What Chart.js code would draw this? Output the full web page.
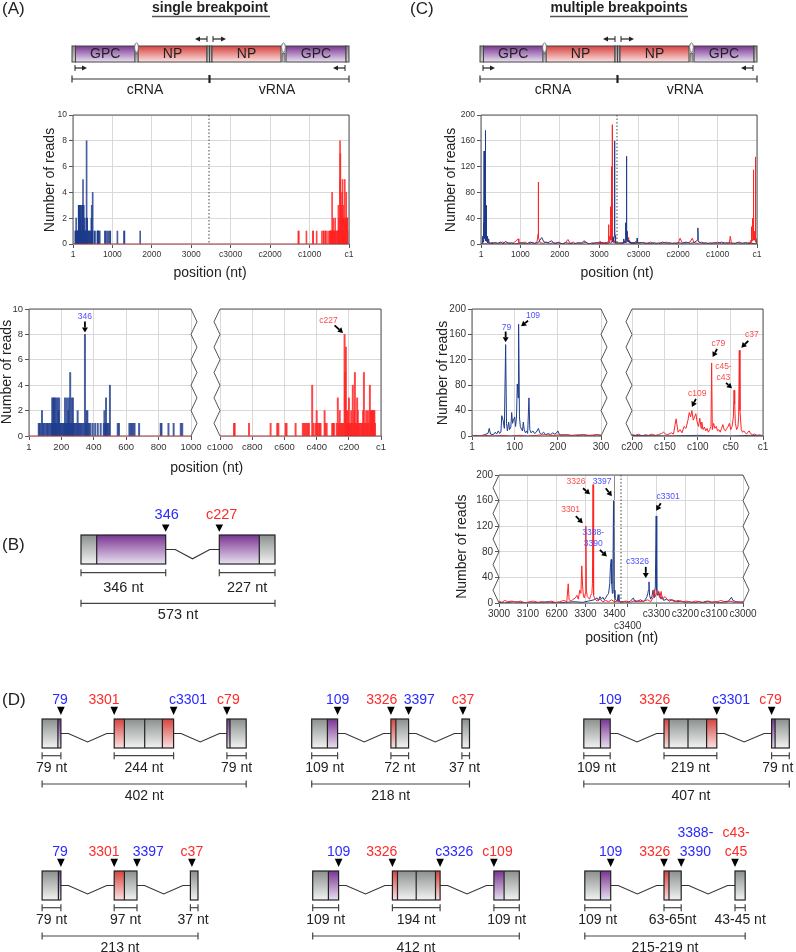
<!DOCTYPE html>
<html>
<head>
<meta charset="utf-8">
<script src="https://cdn.jsdelivr.net/npm/chart.js@4.4.0/dist/chart.umd.min.js"></script>
<style>
body{margin:0;background:#fff;width:796px;height:952px;position:relative;overflow:hidden;font-family:"Liberation Sans",Arial,sans-serif}
#bg{position:absolute;left:0;top:0}
.plot{position:absolute}
</style>
</head>
<body>
<canvas id="bg" width="796" height="952"></canvas>
<div class="plot" id="wA1"><canvas id="A1"></canvas></div>
<div class="plot" id="wA2L"><canvas id="A2L"></canvas></div>
<div class="plot" id="wA2R"><canvas id="A2R"></canvas></div>
<div class="plot" id="wC1"><canvas id="C1"></canvas></div>
<div class="plot" id="wC2L"><canvas id="C2L"></canvas></div>
<div class="plot" id="wC2R"><canvas id="C2R"></canvas></div>
<div class="plot" id="wC3"><canvas id="C3"></canvas></div>
<script>
// ---- (A) single breakpoint: reads per junction position
// blue = cRNA side positions, red = vRNA side positions (cN)
const aBluePos = [61,66,72,81,88,95,104,112,118,126, 134,140,144,148,151,155,158,162,166,170,
  174,178,183,187,192,196,203,209,214,219, 223,228,232,235,239,243,247,252,255,259,
  264,268,272,277,282,289,295,301,306,312, 318,324,331,339,346,352,356,361,366,372,
  380,394,409,425,443,462,466,472,476,481, 486,494,500,548,556,620,628,636,645,652,
  680,813,818,861,893,937,946,1127,1296,1305, 1705];
const aBlueReads = [1,1,1,2,1,1,1,1,1,1, 1,1,3,1,3,3,1,3,1,3,
  1,3,2,3,1,1,1,1,1,1, 3,1,1,3,1,2,3,1,5,1,
  3,1,3,1,1,1,1,2,1,1, 1,1,1,1,8,1,2,2,1,1,
  1,1,1,1,1,1,2,1,3,1, 1,1,4,1,1,1,1,1,1,1,
  1,1,1,1,1,1,1,1,1,1, 1];
const aRedPos = [1283,1275,1080,913,909,820,686,645,638,593, 587,531,486,478,470,462,455,448,428,420,
  407,400,396,388,381,376,351,346,338,304, 298,293,276,269,262,257,250,244,239,233,
  227,223,219,215,211,207,204,200,195,190, 186,181,176,171,167,163,158,153,149,145,
  140,135,128,122,117,112,107,103,98,93, 88,82,76,70,66,62,58,54,50,46, 42,38];
const aRedReads = [1,1,1,1,1,1,1,1,1,1, 1,1,1,1,1,1,1,1,4,1,
  1,2,1,1,1,1,2,1,1,1, 1,1,1,3,1,2,1,1,1,1,
  8,5,7,2,1,2,1,3,1,1, 2,1,4,1,2,5,1,1,3,2,
  1,1,1,1,1,2,5,1,1,2, 1,2,1,4,2,2,2,2,2,2, 2,1];

// ---- (C) multiple breakpoints: [position, reads]
const cBlueCrna = [[1,0],[10,1],[20,0],[30,2],[38,4],[41,12],[44,3],[50,2],[55,6],[58,3],[62,8],[65,4],[68,6],[70,32],[73,25],[76,12],[79,144],[81,20],[83,8],[86,22],[88,10],[91,14],[93,37],[95,20],[97,25],[100,30],[102,15],[104,28],[106,82],[108,60],[109,176],[111,30],[113,15],[116,10],[118,8],[120,22],[122,10],[125,5],[128,8],[130,4],[133,60],[135,10],[138,5],[142,8],[146,4],[150,6],[155,12],[158,5],[162,3],[167,6],[172,2],[178,4],[183,2],[188,5],[192,3],[196,4],[200,8],[204,2],[210,1],[220,2],[230,1],[240,0],[250,1],[260,2],[270,1],[280,0],[290,2],[300,1],
  [350,2],[420,1],[500,3],[560,0],[620,4],[700,1],[780,2],[860,0],[950,1],[1050,2],[1150,0],[1250,3],[1350,1],[1450,2],[1540,10],[1600,3],[1700,2],[1790,5],[1850,1],[1950,2],[2050,0],[2150,2],[2250,1],[2350,0],[2450,2],[2550,1],[2610,5],[2700,1],[2800,0],[2900,2],
  [3000,1],[3020,0],[3050,2],[3080,1],[3110,0],[3140,1],[3170,2],[3200,0],[3230,1],[3260,2],[3290,1],[3310,3],[3330,5],[3340,8],[3345,4],[3350,10],[3355,6],[3360,9],[3365,5],[3370,8],[3375,12],[3380,15],[3384,30],[3386,55],[3389,68],[3391,30],[3393,15],[3395,40],[3397,160],[3399,20],[3402,8],[3406,4],[3410,3],[3413,13],[3416,3],[3422,2]];
const cBlueVrna = [[3420,1],[3410,2],[3400,1],[3390,3],[3380,8],[3375,2],[3365,3],[3355,5],[3345,2],[3338,6],[3333,10],[3330,15],[3328,20],[3326,33],[3324,12],[3320,6],[3316,10],[3312,20],[3308,8],[3304,25],[3301,136],[3299,20],[3296,12],[3292,18],[3288,10],[3284,6],[3280,10],[3275,4],[3265,6],[3255,3],[3245,5],[3230,2],[3215,3],[3200,1],[3185,2],[3170,0],[3155,2],[3140,1],[3125,3],[3110,1],[3095,2],[3080,0],[3065,2],[3050,3],[3040,9],[3035,4],[3025,2],[3010,1],[3000,2],
  [2900,2],[2800,1],[2700,1],[2600,2],[2500,0],[2400,3],[2300,1],[2200,2],[2100,0],[2000,2],[1900,1],[1800,3],[1700,1],[1600,2],[1510,6],[1499,25],[1490,4],[1400,1],[1300,2],[1200,0],[1100,2],[1000,1],[900,3],[800,1],[700,2],[600,0],[500,2],[400,1],[300,2],[200,1],[150,0],[100,1],[50,0],[20,1],[1,0]];
const cRedCrna = [[1,1],[15,0],[30,1],[50,0],[70,1],[90,0],[110,1],[130,0],[150,1],[170,2],[190,1],[210,2],[230,1],[250,2],[270,1],[290,2],[300,1],
  [380,2],[460,0],[540,3],[620,1],[700,2],[780,0],[860,3],[940,8],[960,2],[1040,1],[1120,3],[1200,0],[1280,2],[1360,1],[1420,3],[1450,15],[1455,96],[1460,10],[1500,2],[1580,1],[1660,3],[1740,0],[1820,2],[1900,1],[1980,3],[2060,0],[2140,2],[2207,7],[2260,1],[2340,3],[2420,0],[2500,2],[2580,1],[2660,3],[2740,0],[2820,2],[2900,1],
  [3000,3],[3010,1],[3020,4],[3030,2],[3045,3],[3060,1],[3075,3],[3090,0],[3105,2],[3120,3],[3135,1],[3150,2],[3165,0],[3180,3],[3195,1],[3210,2],[3225,4],[3235,2],[3240,30],[3243,5],[3250,3],[3258,6],[3265,8],[3270,12],[3275,6],[3280,20],[3284,15],[3287,58],[3290,25],[3293,10],[3296,8],[3299,15],[3301,120],[3303,20],[3306,10],[3310,8],[3314,6],[3318,12],[3322,15],[3324,30],[3326,185],[3328,12],[3331,8],[3335,5],[3340,3],[3350,6],[3360,2],[3370,4],[3380,2],[3390,5],[3400,2],[3410,3],[3422,1]];
const cRedVrna = [[3420,2],[3405,3],[3390,1],[3375,4],[3360,2],[3345,3],[3330,5],[3320,2],[3312,8],[3308,21],[3304,10],[3300,15],[3296,20],[3292,12],[3288,8],[3284,18],[3280,6],[3270,10],[3260,4],[3250,6],[3240,2],[3225,4],[3210,2],[3195,3],[3180,1],[3165,3],[3150,2],[3135,0],[3120,3],[3105,1],[3090,2],[3075,4],[3060,1],[3045,3],[3030,1],[3015,2],[3000,1],
  [2900,2],[2800,1],[2700,3],[2600,0],[2500,2],[2400,1],[2300,3],[2200,0],[2100,2],[2000,1],[1950,9],[1900,2],[1800,1],[1700,3],[1640,9],[1600,2],[1500,1],[1400,3],[1300,0],[1200,2],[1100,1],[1000,3],[900,0],[800,2],[700,1],[679,12],[650,2],[550,1],[450,3],[350,0],[280,2],[240,1],
  [200,2],[195,1],[190,3],[185,0],[180,2],[175,1],[170,3],[165,1],[160,2],[155,4],[152,6],[148,2],[144,3],[140,5],[137,3],[133,27],[130,6],[127,10],[124,5],[121,15],[118,12],[115,25],[113,37],[111,30],[109,40],[107,25],[105,30],[103,35],[101,22],[99,15],[97,28],[95,12],[94,22],[92,10],[90,14],[88,8],[86,12],[84,6],[82,10],[80,15],[79,115],[78,10],[76,20],[74,12],[72,15],[70,8],[68,10],[66,6],[64,12],[62,18],[60,10],[58,8],[56,12],[54,15],[52,20],[50,10],[48,15],[46,30],[45,72],[44,50],[43,20],[41,10],[39,15],[38,30],[37,135],[36,40],[34,10],[32,6],[30,8],[28,5],[26,3],[24,6],[22,8],[20,4],[17,2],[14,3],[10,1],[6,2],[1,0]];

// ---- tick labels
const topTicks = [1,1000,2000,3000,4000,5000,6000,7000];
const topLabels = ['1','1000','2000','3000','c3000','c2000','c1000','c1'];
const aLeftTicks = [1,200,400,600,800,1000];
const aLeftLabels = ['1','200','400','600','800','1000'];
const aRightTicks = [1000,800,600,400,200,1];
const aRightLabels = ['c1000','c800','c600','c400','c200','c1'];
const cLeftTicks = [1,100,200,300];
const cLeftLabels = ['1','100','200','300'];
const cRightTicks = [200,150,100,50,1];
const cRightLabels = ['c200','c150','c100','c50','c1'];
const zoomTicks = [3000,3100,3200,3300,3400,3446,3546,3646,3746,3846];
const zoomLabels = ['3000','3100','6200','3300','3400',['','c3400'],'c3300','c3200','c3100','c3000'];

const TOP_SPAN = 7000, ZOOM_SPAN = 6846;
const BLUE = '#1e3c8c', RED = '#ff2424';
const BAR_BLUE = 'rgba(30,60,140,0.82)', BAR_RED = 'rgba(255,36,36,0.85)';
const LBLUE = '#4f4fff', LRED = '#ff4a4a';
const FONT = "'Liberation Sans', Arial, Helvetica, sans-serif";

Chart.defaults.font.family = FONT;
Chart.defaults.color = '#333';

const EXTRA = {};

function zig(ctx, x, t, b, amp) {
  ctx.beginPath();
  ctx.moveTo(x, t);
  if (amp) for (let k = 1; k < 10; k++) ctx.lineTo(x + (k % 2 ? amp : 0), t + k * (b - t) / 10);
  ctx.lineTo(x, b);
  ctx.stroke();
}

function arrow(ctx, x0, y0, x1, y1) {
  const ang = Math.atan2(y1 - y0, x1 - x0), L = 5, W = 3;
  const bx = x1 - L * Math.cos(ang), by = y1 - L * Math.sin(ang);
  ctx.strokeStyle = '#000'; ctx.lineWidth = 1.8;
  ctx.beginPath(); ctx.moveTo(x0, y0); ctx.lineTo(bx, by); ctx.stroke();
  ctx.fillStyle = '#000';
  ctx.beginPath(); ctx.moveTo(x1, y1);
  ctx.lineTo(bx + W * Math.sin(ang), by - W * Math.cos(ang));
  ctx.lineTo(bx - W * Math.sin(ang), by + W * Math.cos(ang));
  ctx.closePath(); ctx.fill();
}

const framePlugin = {
  id: 'frame',
  afterDatasetsDraw(chart) {
    const s = EXTRA[chart.canvas.id], ctx = chart.ctx, a = chart.chartArea;
    ctx.save();
    if (s.vmark) {
      const x = chart.scales.x.getPixelForValue(s.vmark);
      ctx.strokeStyle = '#444'; ctx.lineWidth = 1; ctx.setLineDash([1.5, 2]);
      ctx.beginPath(); ctx.moveTo(x, a.top); ctx.lineTo(x, a.bottom); ctx.stroke();
      ctx.setLineDash([]);
    }
    ctx.lineWidth = 1; ctx.strokeStyle = '#555';
    ctx.beginPath(); ctx.moveTo(a.left, a.top); ctx.lineTo(a.right, a.top); ctx.stroke();
    zig(ctx, a.left, a.top, a.bottom, s.zigL ? -6 : 0);
    zig(ctx, a.right, a.top, a.bottom, s.zigR ? 6 : 0);
    ctx.strokeStyle = s.base || '#555';
    ctx.beginPath(); ctx.moveTo(a.left, a.bottom); ctx.lineTo(a.right, a.bottom); ctx.stroke();
    // arrows with breakpoint labels
    (s.anno || []).forEach(it => {
      const x = chart.scales.x.getPixelForValue(it.x), y = chart.scales.y.getPixelForValue(it.y);
      arrow(ctx, x + it.t[0], y + it.t[1], x + it.h[0], y + it.h[1]);
      ctx.font = '8.5px ' + FONT; ctx.textAlign = 'center'; ctx.textBaseline = 'middle';
      ctx.fillStyle = it.c === 'blue' ? LBLUE : LRED;
      it.text.forEach((ln, i) => ctx.fillText(ln, x + it.l[0], y + it.l[1] + i * 10.8));
    });
    ctx.restore();
  }
};

function build(id, p, s) {
  EXTRA[id] = s;
  const d = document.getElementById('w' + id);
  d.style.left = Math.round(p.L - p.yw - p.pl) + 'px';
  d.style.top = Math.round(p.T - p.pt) + 'px';
  d.style.width = Math.round(p.R - p.L + p.yw + p.pl + p.pr) + 'px';
  d.style.height = Math.round(p.B - p.T + p.pt + p.xh) + 'px';
  return new Chart(document.getElementById(id), {
    type: s.type,
    data: {datasets: s.datasets},
    options: {
      responsive: true,
      maintainAspectRatio: false,
      animation: false,
      events: [],
      layout: {padding: {left: p.pl, top: p.pt, right: p.pr, bottom: 0}},
      plugins: {legend: {display: false}, tooltip: {enabled: false}},
      scales: {
        x: {
          type: 'linear', min: s.xmin, max: s.xmax, reverse: !!s.reverse, offset: false,
          afterBuildTicks: sc => { sc.ticks = s.xt.map(v => ({value: v})); },
          afterFit: sc => { sc.height = p.xh; sc.paddingLeft = 0; sc.paddingRight = 0; },
          ticks: {autoSkip: false, maxRotation: 0, minRotation: 0, padding: 1.5,
            font: {size: s.fs}, color: '#333', callback: (v, i) => s.xl[i]},
          grid: {offset: false, tickLength: 4, tickColor: '#555',
            color: c => (s.darkAt && c.tick && c.tick.value === s.darkAt) ? '#8a8a8a' : '#d9d9d9'},
          border: {display: false}
        },
        y: {
          min: 0, max: s.ymax,
          afterFit: sc => { sc.width = p.yw; sc.paddingTop = 0; sc.paddingBottom = 0; },
          ticks: {stepSize: s.ystep, display: s.ylab, font: {size: s.fs}, color: '#333', padding: 2},
          grid: {color: '#d9d9d9', tickLength: 4, tickColor: '#555', drawTicks: s.ylab},
          border: {display: false}
        }
      }
    },
    plugins: [framePlugin]
  });
}

const pairs = (pos, reads, f) => pos.map((v, i) => ({x: f(v), y: reads[i]}));
const pts = (arr, f) => arr.map(([v, r]) => ({x: f(v), y: r}));
const same = v => v;
const bars = (data, color, w) => ({data, backgroundColor: color, barThickness: w, grouped: false, borderWidth: 0});
const trace = (data, color) => ({data, borderColor: color, borderWidth: 1, pointRadius: 0, tension: 0, fill: false});

// (A) top overview
build('A1', {L: 73, T: 115, R: 349, B: 244, yw: 22, pl: 0, pt: 8, pr: 10, xh: 22}, {
  type: 'bar', xmin: 1, xmax: TOP_SPAN, xt: topTicks, xl: topLabels, fs: 8.5, ymax: 10, ystep: 2, ylab: true,
  vmark: 3450, base: '#9c3030',
  datasets: [bars(pairs(aBluePos, aBlueReads, same), BAR_BLUE, 1),
             bars(pairs(aRedPos, aRedReads, v => TOP_SPAN - v), BAR_RED, 1)]
});
// (A) zoomed ends
build('A2L', {L: 29, T: 309, R: 191, B: 436, yw: 22, pl: 0, pt: 8, pr: 12, xh: 22}, {
  type: 'bar', xmin: 1, xmax: 1000, xt: aLeftTicks, xl: aLeftLabels, fs: 9.5, ymax: 10, ystep: 2, ylab: true,
  zigR: true, base: '#9c3030',
  anno: [{x: 346, y: 8, text: ['346'], c: 'blue', h: [0, -2], t: [0, -13], l: [0, -18]}],
  datasets: [bars(pairs(aBluePos, aBlueReads, same), BAR_BLUE, 1.3)]
});
build('A2R', {L: 219.5, T: 309, R: 380, B: 436, yw: 0, pl: 14, pt: 8, pr: 10, xh: 22}, {
  type: 'bar', xmin: 1, xmax: 1000, reverse: true, xt: aRightTicks, xl: aRightLabels, fs: 9.5, ymax: 10, ystep: 2, ylab: false,
  zigL: true, base: '#9c3030',
  anno: [{x: 227, y: 8, text: ['c227'], c: 'red', h: [-1.5, -1.5], t: [-10, -9], l: [-16, -14]}],
  datasets: [bars(pairs(aRedPos, aRedReads, same), BAR_RED, 1.3)]
});

// (C) top overview
build('C1', {L: 481, T: 115, R: 757, B: 244, yw: 24, pl: 0, pt: 8, pr: 10, xh: 22}, {
  type: 'line', xmin: 1, xmax: TOP_SPAN, xt: topTicks, xl: topLabels, fs: 8.5, ymax: 200, ystep: 40, ylab: true,
  vmark: 3450,
  datasets: [trace(pts(cBlueCrna, same).concat(pts(cBlueVrna, v => TOP_SPAN - v)), BLUE),
             trace(pts(cRedCrna, same).concat(pts(cRedVrna, v => TOP_SPAN - v)), RED)]
});
// (C) 5' / 3' ends
build('C2L', {L: 472, T: 309, R: 601, B: 436, yw: 24, pl: 0, pt: 8, pr: 12, xh: 22}, {
  type: 'line', xmin: 1, xmax: 300, xt: cLeftTicks, xl: cLeftLabels, fs: 10, ymax: 200, ystep: 40, ylab: true,
  zigR: true,
  anno: [{x: 79, y: 144, text: ['79'], c: 'blue', h: [0, -2.3], t: [0, -13], l: [0.8, -16.5]},
         {x: 109, y: 176, text: ['109'], c: 'blue', h: [2.5, 2], t: [9.5, -3.5], l: [14.4, -8.8]}],
  datasets: [trace(pts(cRedCrna, same), RED), trace(pts(cBlueCrna, same), BLUE)]
});
build('C2R', {L: 632, T: 309, R: 763, B: 436, yw: 0, pl: 14, pt: 8, pr: 10, xh: 22}, {
  type: 'line', xmin: 1, xmax: 200, reverse: true, xt: cRightTicks, xl: cRightLabels, fs: 10, ymax: 200, ystep: 40, ylab: false,
  zigL: true,
  anno: [{x: 79, y: 115, text: ['c79'], c: 'red', h: [1, -6], t: [5.4, -14], l: [6.7, -19.8]},
         {x: 37, y: 135, text: ['c37'], c: 'red', h: [2, -2.5], t: [9, -9.5], l: [12.6, -15.5]},
         {x: 45, y: 72, text: ['c45-', 'c43'], c: 'red', h: [-2, -2], t: [-8, -7.4], l: [-10.6, -23.7]},
         {x: 109, y: 40, text: ['c109'], c: 'red', h: [0, -3.7], t: [4, -11.7], l: [5.4, -17.4]}],
  datasets: [trace(pts(cBlueVrna, same), BLUE), trace(pts(cRedVrna, same), RED)]
});
// (C) junction region around the genome end
build('C3', {L: 499, T: 475, R: 743, B: 603, yw: 24, pl: 8, pt: 8, pr: 16, xh: 32}, {
  type: 'line', xmin: 3000, xmax: 3846, xt: zoomTicks, xl: zoomLabels, fs: 10, ymax: 200, ystep: 40, ylab: true,
  zigL: true, zigR: true, vmark: 3423, darkAt: 3400,
  anno: [{x: 3326, y: 185, text: ['3326'], c: 'red', h: [-3, 9.7], t: [-10, 3.7], l: [-17, -2.6]},
         {x: 3397, y: 160, text: ['3397'], c: 'blue', h: [-1.7, -4.4], t: [-7.7, -12.4], l: [-11.4, -18.7]},
         {x: 3301, y: 120, text: ['3301'], c: 'red', h: [-3, -3], t: [-10, -10], l: [-15.2, -16.8]},
         {x: 3389, y: 68, text: ['3388-', '3390'], c: 'blue', h: [-4.3, -3], t: [-11.3, -9.6], l: [-18, -26.9]},
         {x: ZOOM_SPAN - 3326, y: 33, text: ['c3326'], c: 'blue', h: [-3.2, -4], t: [-3.2, -15], l: [-11.5, -19.8]},
         {x: ZOOM_SPAN - 3301, y: 136, text: ['c3301'], c: 'blue', h: [0, -5.3], t: [4.6, -12.8], l: [12, -19]}],
  datasets: [trace(pts(cRedCrna, same).concat(pts(cRedVrna, v => ZOOM_SPAN - v)), RED),
             trace(pts(cBlueCrna, same).concat(pts(cBlueVrna, v => ZOOM_SPAN - v)), BLUE)]
});

// ---------- schematics, titles and labels ----------
const g = document.getElementById('bg').getContext('2d');
function text(s, x, y, size, color, o) {
  o = o || {};
  g.save();
  g.font = (o.bold ? 'bold ' : '') + size + 'px ' + FONT;
  g.fillStyle = color || '#222';
  g.textAlign = o.align || 'center';
  g.textBaseline = 'middle';
  if (o.rot) { g.translate(x, y); g.rotate(-Math.PI / 2); g.fillText(s, 0, 0); }
  else g.fillText(s, x, y);
  g.restore();
}
const GRAD = {gray: ['#8b908d', '#f2f3f2'], purple: ['#7a3592', '#e8e0f0'], red: ['#d6433e', '#fbe2e2'], cap: ['#8c8c8c', '#d2d2d2']};
function gbox(x0, y0, x1, y1, kind) {
  const gr = g.createLinearGradient(0, y0, 0, y1);
  gr.addColorStop(0, GRAD[kind][0]); gr.addColorStop(1, GRAD[kind][1]);
  g.fillStyle = gr; g.fillRect(x0, y0, x1 - x0, y1 - y0);
}
function seg(x0, y0, x1, y1, w, c) {
  g.strokeStyle = c || '#333'; g.lineWidth = w || 1.2;
  g.beginPath(); g.moveTo(x0, y0); g.lineTo(x1, y1); g.stroke();
}
function bracket(x0, x1, y, tk) {
  seg(x0, y, x1, y, 1.2, '#444');
  seg(x0, y - tk, x0, y + tk, 1.2, '#444');
  seg(x1, y - tk, x1, y + tk, 1.2, '#444');
}
function primer(xBar, xHead, y) {
  const d = xHead > xBar ? 1 : -1;
  seg(xBar, y, xHead - d * 4, y, 1.2, '#222');
  seg(xBar, y - 3, xBar, y + 3, 1, '#222');
  g.fillStyle = '#222'; g.beginPath();
  g.moveTo(xHead, y); g.lineTo(xHead - d * 5, y - 2.5); g.lineTo(xHead - d * 5, y + 2.5); g.closePath(); g.fill();
}
function genome(ox) {
  const t = 46, b = 62;
  const parts = [[72, 75.5, 'cap'], [75.5, 135, 'purple', 'GPC'], [138, 207, 'red', 'NP'], [207, 209.5, 'cap'],
                 [209.5, 212, 'cap'], [212, 281, 'red', 'NP'], [286, 346, 'purple', 'GPC'], [346, 349, 'cap']];
  parts.forEach(([x0, x1, k, lab]) => {
    gbox(ox + x0, t, ox + x1, b, k);
    g.strokeStyle = '#444'; g.lineWidth = 1; g.strokeRect(ox + x0, t, x1 - x0, b - t);
    if (lab) text(lab, ox + (x0 + x1) / 2, (t + b) / 2 + 0.5, 14, '#222');
  });
  [136.5, 283.5].forEach(h => {
    gbox(ox + h - 1.5, 53, ox + h + 1.5, b, 'cap');
    g.strokeStyle = '#555'; g.lineWidth = 0.8; g.strokeRect(ox + h - 1.5, 53, 3, b - 53);
    g.fillStyle = '#fff'; g.beginPath(); g.ellipse(ox + h, 47.5, 1.9, 4.6, 0, 0, Math.PI * 2); g.fill(); g.stroke();
  });
  primer(ox + 207, ox + 195, 39); primer(ox + 213, ox + 226, 39);
  primer(ox + 75, ox + 87, 68); primer(ox + 345, ox + 333, 68);
  seg(ox + 72, 79, ox + 349, 79, 1.2, '#333');
  seg(ox + 72, 75.5, ox + 72, 82.5, 1.2, '#333');
  seg(ox + 349, 75.5, ox + 349, 82.5, 1.2, '#333');
  seg(ox + 209.5, 75, ox + 209.5, 83, 2.2, '#222');
  text('cRNA', ox + 145, 90, 14, '#222');
  text('vRNA', ox + 277, 90, 14, '#222');
}

// panel letters and headers
text('(A)', 2, 9.5, 17, '#222', {align: 'left'});
text('(C)', 410, 9.5, 17, '#222', {align: 'left'});
text('(B)', 2, 545, 17, '#222', {align: 'left'});
text('(D)', 2, 700, 17, '#222', {align: 'left'});
text('single breakpoint', 210, 8.5, 14, '#222', {bold: true});
seg(152, 16.5, 270, 16.5, 1.3, '#555');
text('multiple breakpoints', 619, 8.5, 14, '#222', {bold: true});
seg(550, 16.5, 688, 16.5, 1.3, '#555');
genome(0);
genome(408);

// axis titles
[[50.5, 180], [7, 372], [451, 180], [443, 373], [461.7, 546.7]].forEach(([x, y]) =>
  text('Number of reads', x, y, 14, '#222', {rot: true}));
[[210, 273.5], [206.7, 468], [617, 273.5], [621.7, 638]].forEach(([x, y]) =>
  text('position (nt)', x, y, 14, '#222'));

// deletion constructs (B) and (D)
const COL = {blue: '#2a2aff', red: '#ff2a2a'};
function construct(c, top, o) {
  const h = 29, bot = top + h, mid = top + h / 2;
  for (let i = 0; i < c.boxes.length - 1; i++) {
    const e = c.boxes[i][c.boxes[i].length - 1][1], s0 = c.boxes[i + 1][0][0];
    g.strokeStyle = '#333'; g.lineWidth = 1.1; g.beginPath();
    g.moveTo(e, mid); g.lineTo(e + o.flat, mid); g.lineTo((e + s0) / 2, mid + o.depth);
    g.lineTo(s0 - o.flat, mid); g.lineTo(s0, mid); g.stroke();
  }
  c.boxes.forEach(b => {
    b.forEach(([x0, x1, k]) => gbox(x0, top, x1, bot, k));
    b.slice(1).forEach(([x0]) => seg(x0, top, x0, bot, 1.2, '#222'));
    g.strokeStyle = '#222'; g.lineWidth = 1.2;
    g.strokeRect(b[0][0], top, b[b.length - 1][1] - b[0][0], h);
  });
  c.marks.forEach(([x, lines, col, lx]) => {
    g.fillStyle = '#000'; g.beginPath();
    g.moveTo(x, top - o.tip); g.lineTo(x - 3.8, top - o.base); g.lineTo(x + 3.8, top - o.base); g.closePath(); g.fill();
    lines.forEach((ln, i) => text(ln, lx, top - o.lab - (lines.length - 1 - i) * 18.7, o.font, COL[col]));
  });
  c.brackets.forEach(([x0, x1, s, lx]) => {
    bracket(x0, x1, bot + o.br, 3.5);
    text(s, lx !== undefined ? lx : (x0 + x1) / 2, bot + o.brLab, o.font, '#222');
  });
  const [t0, t1, ts, tx] = c.total;
  bracket(t0, t1, bot + o.tot, 3.5);
  text(ts, tx !== undefined ? tx : (t0 + t1) / 2, bot + o.totLab, o.font, '#222');
}

const optB = {flat: 9.5, depth: 9.3, tip: 3.3, base: 10.5, lab: 20, br: 8.7, brLab: 23.5, tot: 39.3, totLab: 51, font: 14.5};
const optD = {flat: 7.5, depth: 8.5, tip: 4, base: 12.3, lab: 19, br: 7.7, brLab: 20, tot: 36, totLab: 48, font: 14};

construct({
  boxes: [[[81, 96.7, 'gray'], [96.7, 165.7, 'purple']], [[219.3, 259.3, 'purple'], [259.3, 275, 'gray']]],
  marks: [[165.7, ['346'], 'blue', 166.7], [219.3, ['c227'], 'red', 221.7]],
  brackets: [[81, 165.7, '346 nt'], [219.3, 275, '227 nt']],
  total: [81, 275, '573 nt']
}, 535, optB);

const rowD = [[719, [
  {boxes: [[[42.1, 57.9, 'gray'], [57.9, 60.9, 'purple']],
           [[114.2, 124.4, 'red'], [124.4, 144.7, 'gray'], [144.7, 162.4, 'gray'], [162.4, 173.6, 'red']],
           [[226.9, 230, 'purple'], [230, 246.2, 'gray']]],
   marks: [[60.9, ['79'], 'blue', 60], [114.2, ['3301'], 'red', 104], [173.6, ['c3301'], 'blue', 188], [226.9, ['c79'], 'red', 228.4]],
   brackets: [[42.1, 60.9, '79 nt'], [114.2, 173.6, '244 nt'], [226.9, 246.2, '79 nt']],
   total: [42.1, 246.2, '402 nt']},
  {boxes: [[[311.7, 327.4, 'gray'], [327.4, 337.6, 'purple']],
           [[390.9, 395.9, 'red'], [395.9, 408.6, 'gray']],
           [[461.9, 469.5, 'gray']]],
   marks: [[337.6, ['109'], 'blue', 337.6], [390.9, ['3326'], 'red', 381.7], [408.6, ['3397'], 'blue', 419.3], [462.9, ['c37'], 'red', 463]],
   brackets: [[311.7, 337.6, '109 nt'], [390.9, 408.6, '72 nt'], [461.9, 469.5, '37 nt', 464.5]],
   total: [311.7, 469.5, '218 nt']},
  {boxes: [[[583.8, 600.5, 'gray'], [600.5, 610.2, 'purple']],
           [[664, 669, 'red'], [669, 688, 'gray'], [688, 706.6, 'gray'], [706.6, 716.8, 'red']],
           [[771.6, 775.1, 'purple'], [775.1, 789.3, 'gray']]],
   marks: [[610.2, ['109'], 'blue', 610.2], [664, ['3326'], 'red', 654.8], [716.8, ['c3301'], 'blue', 731], [771.6, ['c79'], 'red', 770.6]],
   brackets: [[583.8, 610.2, '109 nt', 596.4], [664, 716.8, '219 nt'], [771.6, 789.3, '79 nt', 777.7]],
   total: [583.8, 789.3, '407 nt', 691]}]],
 [871, [
  {boxes: [[[42.1, 58.4, 'gray'], [58.4, 60.9, 'purple']],
           [[114.2, 124.4, 'red'], [124.4, 137, 'gray']],
           [[190.4, 198, 'gray']]],
   marks: [[60.9, ['79'], 'blue', 60], [114.2, ['3301'], 'red', 104], [137, ['3397'], 'blue', 148.2], [191.9, ['c37'], 'red', 191.9]],
   brackets: [[42.1, 60.9, '79 nt'], [114.2, 137, '97 nt'], [190.4, 198, '37 nt', 193]],
   total: [42.1, 198, '213 nt']},
  {boxes: [[[312.7, 328.4, 'gray'], [328.4, 338.6, 'purple']],
           [[392.4, 397.5, 'red'], [397.5, 416.2, 'gray'], [416.2, 435.5, 'gray'], [435.5, 440.1, 'red']],
           [[493.9, 504.1, 'purple'], [504.1, 519.3, 'gray']]],
   marks: [[338.6, ['109'], 'blue', 338.6], [392.4, ['3326'], 'red', 381.7], [440.1, ['c3326'], 'blue', 454.3], [493.9, ['c109'], 'red', 497.5]],
   brackets: [[312.7, 338.6, '109 nt'], [392.4, 440.1, '194 nt'], [493.9, 519.3, '109 nt']],
   total: [312.7, 519.3, '412 nt']},
  {boxes: [[[584.8, 600.5, 'gray'], [600.5, 610.7, 'purple']],
           [[664, 669, 'red'], [669, 681.2, 'gray']],
           [[735, 745.2, 'gray']]],
   marks: [[610.7, ['109'], 'blue', 610.7], [664, ['3326'], 'red', 654.8], [681.2, ['3388-', '3390'], 'blue', 695.4], [735, ['c43-', 'c45'], 'red', 736]],
   brackets: [[584.8, 610.7, '109 nt'], [664, 681.2, '63-65nt'], [735, 745.2, '43-45 nt']],
   total: [584.8, 745.2, '215-219 nt']}]]];
rowD.forEach(([top, list]) => list.forEach(c => construct(c, top, optD)));
</script>
</body>
</html>
